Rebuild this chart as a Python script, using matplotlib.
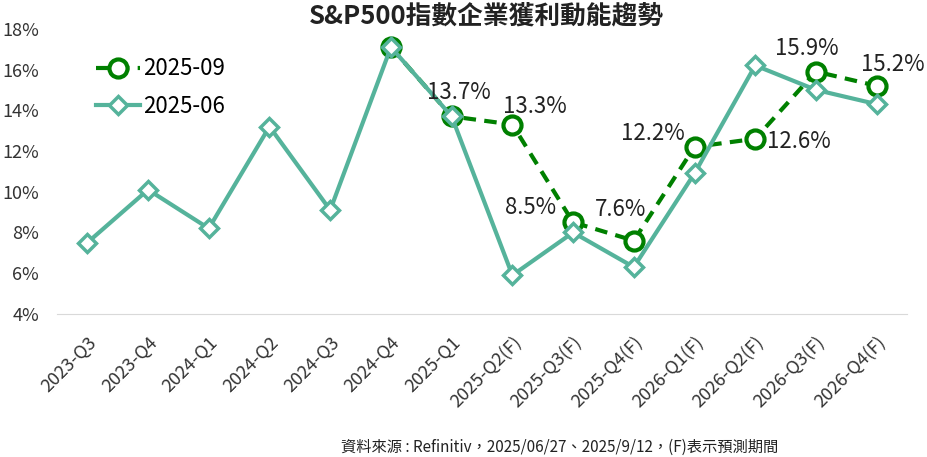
import matplotlib
matplotlib.use("Agg")
import matplotlib.pyplot as plt
import numpy as np

plt.rcParams['font.family'] = ['Noto Sans CJK TC', 'DejaVu Sans']

quarters = ["2023-Q3", "2023-Q4", "2024-Q1", "2024-Q2", "2024-Q3", "2024-Q4",
            "2025-Q1", "2025-Q2(F)", "2025-Q3(F)", "2025-Q4(F)", "2026-Q1(F)",
            "2026-Q2(F)", "2026-Q3(F)", "2026-Q4(F)"]
growth_jun = [7.5, 10.1, 8.2, 13.2, 9.1, 17.1, 13.7, 5.9, 8.0, 6.3, 10.9, 16.2, 15.0, 14.3]
growth_sep = [17.1, 13.7, 13.3, 8.5, 7.6, 12.2, 12.6, 15.9, 15.2]
sep_start = 5
sep_labels = ["", "13.7%", "13.3%", "8.5%", "7.6%", "12.2%", "12.6%", "15.9%", "15.2%"]
label_offsets = [(0, 0), (7, 24), (23, 18), (-43, 15), (-13, 31), (-42, 13), (44, -3), (-9, 23), (16, 21)]

teal = "#55B39B"
green = "#008000"

fig = plt.figure(figsize=(9.28, 4.57), dpi=100)
ax = fig.add_axes([0.0614, 0.313, 0.916, 0.624])

x_all = np.arange(len(quarters))
x_sep = np.arange(sep_start, sep_start + len(growth_sep))

l_sep, = ax.plot(x_sep, growth_sep, color=green, lw=3, ls=(0, (3, 2)), marker="o",
                 markersize=13, markerfacecolor="white", markeredgewidth=3, label="2025-09", zorder=3)
l_jun, = ax.plot(x_all, growth_jun, color=teal, lw=3, marker="D", markersize=9.5,
                 markerfacecolor="white", markeredgewidth=2.5, label="2025-06", zorder=4)

for i, (txt, off) in enumerate(zip(sep_labels, label_offsets)):
    if txt:
        ax.annotate(txt, (x_sep[i], growth_sep[i]), xytext=off, textcoords="offset pixels",
                    ha="center", va="center", fontsize=16, color="#222222", zorder=5)

ax.set_xlim(-0.5, len(quarters) - 0.5)
ax.set_ylim(4, 18)
ax.set_yticks(np.arange(4, 19, 2))
ax.set_yticklabels([f"{v}%" for v in range(4, 19, 2)], fontsize=13, color="#333333")
ax.set_xticks(x_all)
ax.set_xticklabels(quarters, rotation=45, ha="right", rotation_mode="anchor", fontsize=13, color="#333333")
ax.tick_params(axis="x", length=0, pad=14)
ax.tick_params(axis="y", length=0, pad=13)
for s in ["top", "right", "left"]:
    ax.spines[s].set_visible(False)
ax.spines["bottom"].set_color("#D9D9D9")

ax.legend(handles=[l_sep, l_jun], loc="upper left", bbox_to_anchor=(0.022, 0.97), frameon=False,
          fontsize=16, handlelength=2.0, labelspacing=0.65, handletextpad=0.15)

fig.text(0.524, 0.965, "S&P500指數企業獲利動能趨勢", ha="center", va="center", fontsize=18.5,
         fontweight="bold", color="#222222")
fig.text(0.603, 0.022, "資料來源 : Refinitiv，2025/06/27、2025/9/12，(F)表示預測期間", ha="center",
         va="center", fontsize=11, color="#222222")

fig.savefig("out.png", dpi=100)
